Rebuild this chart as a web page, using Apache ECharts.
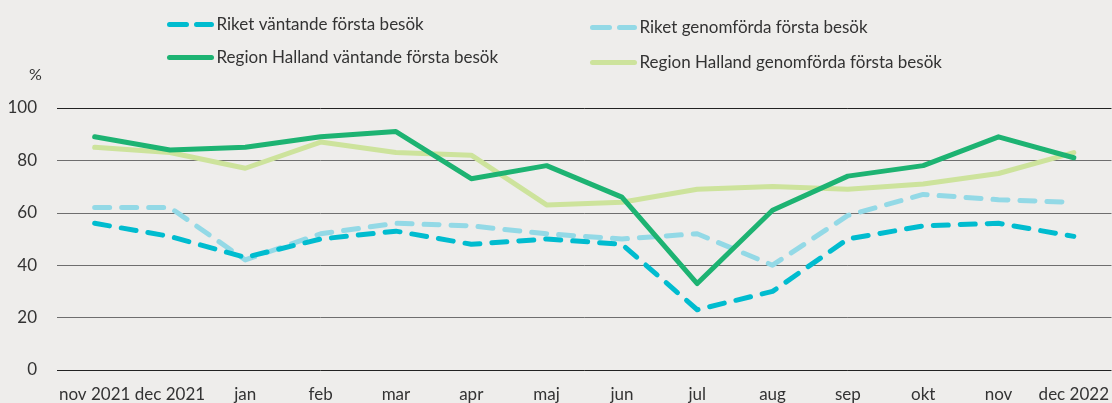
<!DOCTYPE html>
<html>
<head>
<meta charset="utf-8">
<title>Första besök</title>
<script src="https://cdn.jsdelivr.net/npm/echarts@6/dist/echarts.min.js"></script>
<style>
  html, body { margin: 0; padding: 0; background: #eeedeb; }
  #line1 { width: 1112px; height: 403px; }
</style>
</head>
<body>
<div id="line1"></div>
<script>
'use strict';

// månader
var months = ['nov 2021', 'dec 2021', 'jan', 'feb', 'mar', 'apr', 'maj', 'jun', 'jul', 'aug', 'sep', 'okt', 'nov', 'dec 2022'];

// värden i procent
var riketVantande = [56, 51, 43, 50, 53, 48, 50, 48, 23, 30, 50, 55, 56, 51];
var riketGenomforda = [62, 62, 42, 52, 56, 55, 52, 50, 52, 40, 59, 67, 65, 64];
var hallandVantande = [89, 84, 85, 89, 91, 73, 78, 66, 33, 61, 74, 78, 89, 81];
var hallandGenomforda = [85, 83, 77, 87, 83, 82, 63, 64, 69, 70, 69, 71, 75, 83];

var yTicks = [0, 20, 40, 60, 80, 100];

var FONT = 'Lato, "Noto Sans", sans-serif';
var TEXT_COLOR = '#333333';
var DASH = [15, 12];
var LEGEND_DASH = [17, 10]; //två lika streck i legendikonen

// en legend per post, så de hamnar i två kolumner som i originalet
function legendItem(name, color, dashed, left, top) {
    return {
        data: [{
            name: name,
            itemStyle: { opacity: 0 }, //göm symbolen, bara linjen ska synas
            lineStyle: {
                color: color,
                width: 5,
                type: dashed ? LEGEND_DASH : 'solid',
                cap: 'round'
            }
        }],
        left: left,
        top: top,
        padding: 0,
        itemWidth: 42,
        itemHeight: 14,
        selectedMode: false,
        textStyle: {
            fontFamily: FONT,
            fontSize: 17,
            color: TEXT_COLOR
        }
    };
}

function initLine(id) {
    var option = {
        backgroundColor: '#eeedeb',
        animation: false,
        title: {
            text: '%',
            left: 24,
            top: 62,
            textStyle: {
                fontFamily: FONT,
                fontSize: 16,
                fontWeight: 'normal',
                color: TEXT_COLOR
            }
        },
        legend: [
            legendItem('Riket väntande första besök', '#00bccf', true, 167, 16),
            legendItem('Riket genomförda första besök', '#93d9e6', true, 590, 19),
            legendItem('Region Halland väntande första besök', '#1db372', false, 167, 49),
            legendItem('Region Halland genomförda första besök', '#cde39c', false, 590, 54)
        ],
        grid: {
            left: 57,
            right: 0,
            top: 108,
            bottom: 33
        },
        xAxis: {
            type: 'category',
            data: months,
            boundaryGap: true,
            axisLine: { show: false },
            axisTick: { show: false },
            axisLabel: {
                interval: 0,
                margin: 16,
                fontFamily: FONT,
                fontSize: 17,
                color: TEXT_COLOR
            }
        },
        yAxis: {
            type: 'value',
            min: yTicks[0],
            max: yTicks[yTicks.length - 1],
            interval: 20,
            axisLine: { show: false },
            axisTick: { show: false },
            axisLabel: {
                margin: 20,
                fontFamily: FONT,
                fontSize: 17,
                color: TEXT_COLOR
            },
            splitLine: {
                lineStyle: {
                    color: ['#222222', '#6e6e6e', '#6e6e6e', '#6e6e6e', '#6e6e6e', '#222222'],
                    width: 1
                }
            }
        },
        series: [
            {
                name: 'Riket genomförda första besök',
                type: 'line',
                data: riketGenomforda,
                symbol: 'none',
                color: '#93d9e6',
                lineStyle: { width: 5, type: DASH, cap: 'round', join: 'round' }
            },
            {
                name: 'Region Halland genomförda första besök',
                type: 'line',
                data: hallandGenomforda,
                symbol: 'none',
                color: '#cde39c',
                lineStyle: { width: 5, cap: 'round', join: 'round' }
            },
            {
                name: 'Riket väntande första besök',
                type: 'line',
                data: riketVantande,
                symbol: 'none',
                color: '#00bccf',
                lineStyle: { width: 5, type: DASH, cap: 'round', join: 'round' }
            },
            {
                name: 'Region Halland väntande första besök',
                type: 'line',
                data: hallandVantande,
                symbol: 'none',
                color: '#1db372',
                lineStyle: { width: 5, cap: 'round', join: 'round' }
            }
        ]
    };

    var echart = echarts.init(document.getElementById(id));
    echart.setOption(option);
}

initLine('line1');
</script>
</body>
</html>
